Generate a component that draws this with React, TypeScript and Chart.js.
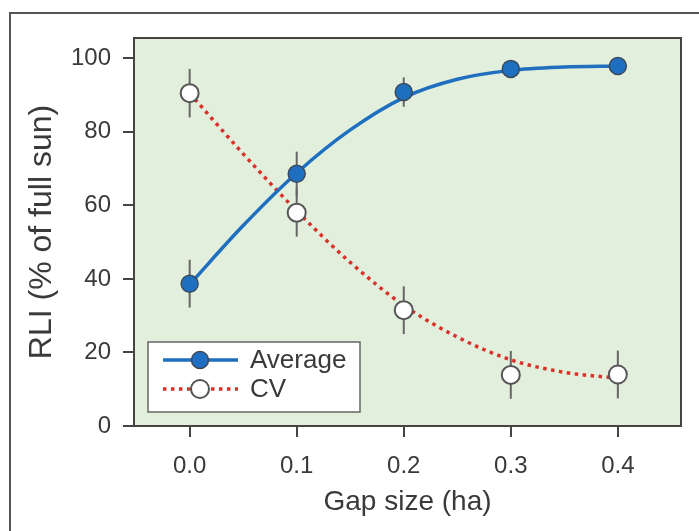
import React, { useEffect, useRef } from "react";
import { Chart, registerables } from "chart.js";

Chart.register(...registerables);

const gapSizes = [0, 0.1, 0.2, 0.3, 0.4];
const averageValues = [38.7, 68.6, 90.8, 97.1, 97.9];
const averageErrors = [6.5, 6, 4, 1.2, 1];
const cvValues = [90.5, 58.0, 31.5, 13.9, 14.0];
const cvErrors = [6.6, 6.5, 6.5, 6.5, 6.5];

const fitX = [0, 0.05, 0.1, 0.15, 0.2, 0.25, 0.3, 0.35, 0.4];
const averageFit = [38.5, 54.5, 68.8, 80.5, 89.3, 94.3, 96.7, 97.6, 97.9];
const cvFit = [90.5, 74, 58.5, 44.5, 32.8, 24.2, 18, 14.6, 13];

const xTicks = [0, 0.1, 0.2, 0.3, 0.4];
const yTicks = [0, 20, 40, 60, 80, 100];

const FONT = "'Liberation Sans', Arial, sans-serif";
const TEXT = "#3a3a3a";
const BLUE = "#1f6fc1";
const RED = "#d9302c";
const GREEN_BG = "#e2efdc";

export default function App() {
  const ref = useRef<HTMLCanvasElement | null>(null);

  useEffect(() => {
    if (!ref.current) return;

    const bgPlugin = {
      id: "bgPlugin",
      beforeDraw(chart: any) {
        const { ctx, chartArea } = chart;
        ctx.save();
        ctx.fillStyle = GREEN_BG;
        ctx.fillRect(chartArea.left, chartArea.top, chartArea.right - chartArea.left, chartArea.bottom - chartArea.top);
        ctx.strokeStyle = "#555";
        ctx.lineWidth = 2;
        ctx.beginPath();
        ctx.moveTo(10, 531);
        ctx.lineTo(10, 13);
        ctx.lineTo(699, 13);
        ctx.stroke();
        ctx.restore();
      },
      beforeDatasetsDraw(chart: any) {
        const { ctx, chartArea } = chart;
        ctx.save();
        ctx.strokeStyle = "#444";
        ctx.lineWidth = 2;
        ctx.strokeRect(chartArea.left, chartArea.top, chartArea.right - chartArea.left, chartArea.bottom - chartArea.top);
        ctx.restore();
      },
    };

    const errorBarPlugin = {
      id: "errorBars",
      afterDatasetDraw(chart: any, args: any) {
        if (args.index !== 2) return;
        const { ctx } = chart;
        const xs = chart.scales.x;
        const ys = chart.scales.y;
        ctx.save();
        ctx.strokeStyle = "#666";
        ctx.lineWidth = 2;
        const drawSet = (vals: number[], errs: number[]) => {
          vals.forEach((v, i) => {
            const x = xs.getPixelForValue(gapSizes[i]);
            ctx.beginPath();
            ctx.moveTo(x, ys.getPixelForValue(v + errs[i]));
            ctx.lineTo(x, ys.getPixelForValue(v - errs[i]));
            ctx.stroke();
          });
        };
        drawSet(averageValues, averageErrors);
        drawSet(cvValues, cvErrors);
        ctx.restore();
      },
    };

    const legendPlugin = {
      id: "customLegend",
      afterDraw(chart: any) {
        const { ctx } = chart;
        const bx = 148, by = 342, bw = 212, bh = 70;
        ctx.save();
        ctx.fillStyle = "#ffffff";
        ctx.fillRect(bx, by, bw, bh);
        ctx.strokeStyle = "#666";
        ctx.lineWidth = 1.5;
        ctx.strokeRect(bx, by, bw, bh);
        const items = [
          { label: chart.data.datasets[0].label, y: 360, color: BLUE, dash: [] as number[], fill: BLUE, stroke: "#3a4a5a", r: 8.5, bw: 1.5 },
          { label: chart.data.datasets[1].label, y: 389, color: RED, dash: [3.5, 4.5], fill: "#ffffff", stroke: "#555", r: 9, bw: 2 },
        ];
        items.forEach((it) => {
          ctx.save();
          ctx.strokeStyle = it.color;
          ctx.lineWidth = 3.5;
          ctx.setLineDash(it.dash);
          ctx.beginPath();
          ctx.moveTo(163, it.y);
          ctx.lineTo(238, it.y);
          ctx.stroke();
          ctx.setLineDash([]);
          ctx.beginPath();
          ctx.arc(200, it.y, it.r, 0, Math.PI * 2);
          ctx.fillStyle = it.fill;
          ctx.fill();
          ctx.lineWidth = it.bw;
          ctx.strokeStyle = it.stroke;
          ctx.stroke();
          ctx.restore();
          ctx.fillStyle = TEXT;
          ctx.font = `26px ${FONT}`;
          ctx.textBaseline = "middle";
          ctx.textAlign = "left";
          ctx.fillText(it.label, 250, it.y + 1);
        });
        ctx.restore();
      },
    };

    const chart = new Chart(ref.current, {
      type: "scatter",
      data: {
        datasets: [
          {
            label: "Average",
            data: gapSizes.map((x, i) => ({ x, y: averageValues[i] })),
            showLine: false,
            pointRadius: 8.5,
            pointBackgroundColor: BLUE,
            pointBorderColor: "#3a4a5a",
            pointBorderWidth: 1.5,
            order: 0,
          },
          {
            label: "CV",
            data: gapSizes.map((x, i) => ({ x, y: cvValues[i] })),
            showLine: false,
            pointRadius: 9,
            pointBackgroundColor: "#ffffff",
            pointBorderColor: "#555",
            pointBorderWidth: 2,
            order: 0,
          },
          {
            label: "Average fit",
            data: fitX.map((x, i) => ({ x, y: averageFit[i] })),
            showLine: true,
            pointRadius: 0,
            borderColor: BLUE,
            borderWidth: 3.5,
            cubicInterpolationMode: "monotone",
            order: 1,
          },
          {
            label: "CV fit",
            data: fitX.map((x, i) => ({ x, y: cvFit[i] })),
            showLine: true,
            pointRadius: 0,
            borderColor: RED,
            borderWidth: 3.5,
            borderDash: [3.5, 4.5],
            cubicInterpolationMode: "monotone",
            order: 1,
          },
        ],
      },
      options: {
        responsive: false,
        animation: false,
        layout: { padding: { left: 0, top: 38, right: 18, bottom: 0 } },
        plugins: { legend: { display: false }, tooltip: { enabled: false } },
        scales: {
          x: {
            type: "linear",
            min: -0.052,
            max: 0.459,
            afterBuildTicks: (s: any) => {
              s.ticks = xTicks.map((v) => ({ value: v }));
            },
            afterFit: (s: any) => {
              s.height = 105;
            },
            grid: { drawOnChartArea: false, drawTicks: true, tickLength: 11, color: "#444", lineWidth: 2 },
            border: { display: false },
            ticks: {
              padding: 15,
              color: TEXT,
              font: { family: FONT, size: 24 },
              callback: (v: any) => Number(v).toFixed(1),
            },
            title: {
              display: true,
              text: "Gap size (ha)",
              color: TEXT,
              font: { family: FONT, size: 28 },
              padding: { top: 12, bottom: 12 },
            },
          },
          y: {
            type: "linear",
            min: 0,
            max: 105.5,
            afterBuildTicks: (s: any) => {
              s.ticks = yTicks.map((v) => ({ value: v }));
            },
            afterFit: (s: any) => {
              s.width = 134;
            },
            grid: { drawOnChartArea: false, drawTicks: true, tickLength: 11, color: "#444", lineWidth: 2 },
            border: { display: false },
            ticks: {
              padding: 12,
              color: TEXT,
              font: { family: FONT, size: 24 },
              callback: (v: any) => String(v),
            },
            title: {
              display: true,
              text: "RLI (% of full sun)",
              color: TEXT,
              font: { family: FONT, size: 32 },
              padding: { top: 23, bottom: 23 },
            },
          },
        },
      },
      plugins: [bgPlugin, errorBarPlugin, legendPlugin],
    } as any);

    return () => chart.destroy();
  }, []);

  return (
    <div style={{ position: "fixed", left: 0, top: 0, width: 699, height: 531, background: "#fff" }}>
      <canvas ref={ref} width={699} height={531} style={{ display: "block" }} />
    </div>
  );
}
